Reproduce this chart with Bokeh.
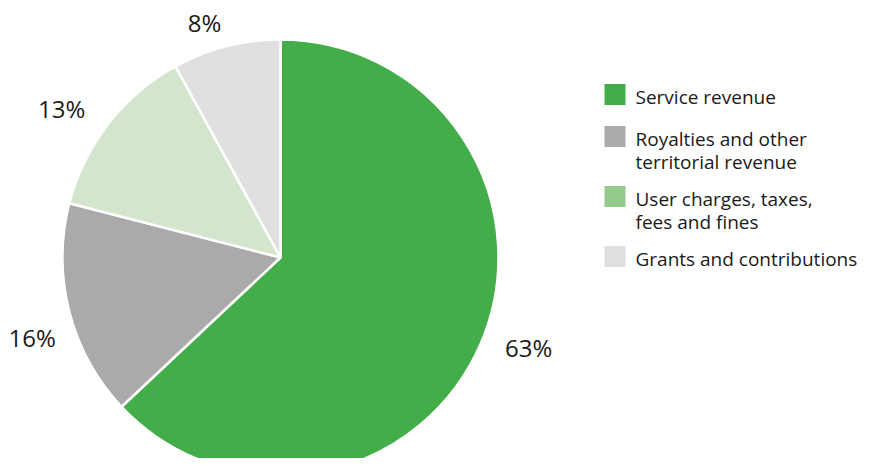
import numpy as np
from bokeh.plotting import figure
from bokeh.models import Range1d, ColumnDataSource
from bokeh.core.properties import value
from bokeh.embed import file_html
from bokeh.resources import INLINE

# ---- data ----
categories = ["Service revenue",
              "Royalties and other territorial revenue",
              "User charges, taxes, fees and fines",
              "Grants and contributions"]
legend_lines = [["Service revenue"],
                ["Royalties and other", "territorial revenue"],
                ["User charges, taxes,", "fees and fines"],
                ["Grants and contributions"]]
shares = [63, 16, 13, 8]
pct_labels = ["63%", "16%", "13%", "8%"]
slice_colors = ["#43ad4a", "#aaaaaa", "#d3e5cc", "#e0e0e0"]
swatch_colors = ["#43ad4a", "#aaaaaa", "#93c98a", "#e0e0e0"]

# ---- layout (pixels) ----
W, H = 857, 458
CX, CY, R = 280, 201, 218
label_r = [264, 261, 265, 247]
label_rot = np.radians(3.5)
FONT = "Open Sans"
TXT = "#1a1a1a"

p = figure(width=W, height=H, output_backend="svg", toolbar_location=None,
           x_range=Range1d(0, W), y_range=Range1d(0, H), min_border=0,
           background_fill_color="white", border_fill_color="white")
p.axis.visible = False
p.grid.visible = False
p.outline_line_color = None

frac = np.array(shares, dtype=float) / sum(shares)
cum = np.cumsum(frac)
prev = cum - frac
start = np.pi / 2 - 2 * np.pi * prev
end = np.pi / 2 - 2 * np.pi * cum

src = ColumnDataSource(dict(cat=categories, start=start, end=end, color=slice_colors))
p.wedge(x=CX, y=CY, radius=R, start_angle="start", end_angle="end",
        direction="clock", fill_color="color", line_color="white", line_width=2.5,
        source=src)

# percentage labels
mid = np.pi / 2 - 2 * np.pi * (prev + frac / 2) + label_rot
lx = CX + np.array(label_r) * np.cos(mid)
ly = CY + np.array(label_r) * np.sin(mid)
p.text(x=lx, y=ly, text=pct_labels, text_align="center", text_baseline="middle",
       text_font=value(FONT), text_font_size="24px", text_color=TXT)

# legend
sw_x, sw_size = 614.5, 21
sw_y = [364, 322, 262, 202]
tx = 635
for lines, col, yy in zip(legend_lines, swatch_colors, sw_y):
    p.rect(x=[sw_x], y=[yy], width=sw_size, height=sw_size, fill_color=col, line_color=None)
    for i, ln in enumerate(lines):
        p.text(x=[tx], y=[yy - 2 - 23 * i], text=[ln], text_align="left",
               text_baseline="middle", text_font=value(FONT), text_font_size="19px",
               text_color=TXT)

open("out.html", "w").write(file_html(p, INLINE))
